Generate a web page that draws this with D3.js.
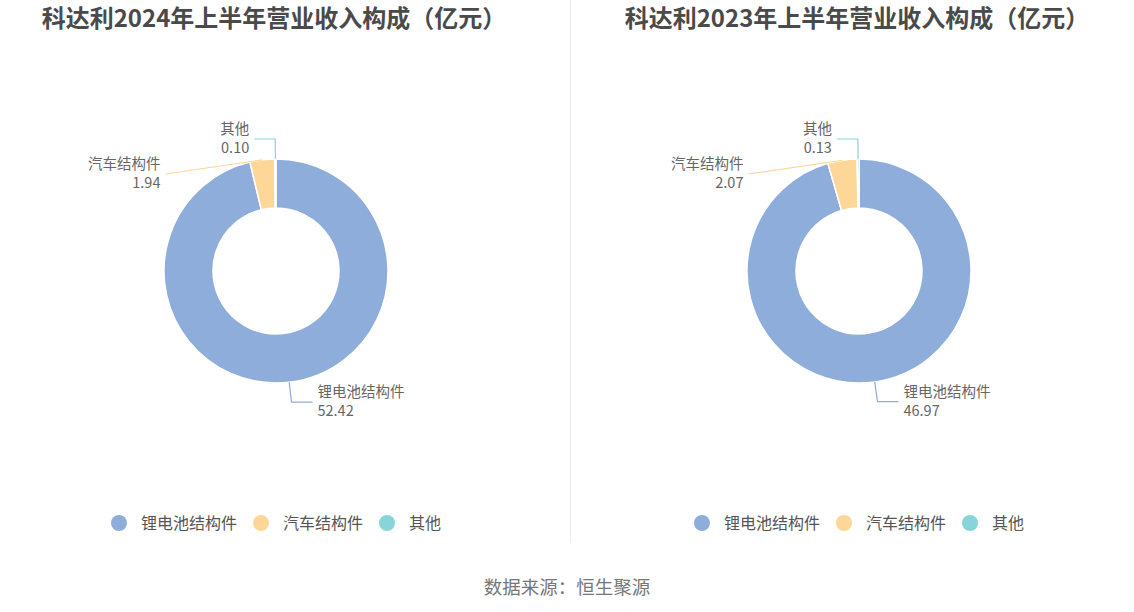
<!DOCTYPE html>
<html>
<head>
<meta charset="utf-8">
<script src="https://cdn.jsdelivr.net/npm/d3@7"></script>
<style>
  body { margin: 0; background: #fff; }
  svg { display: block; font-family: "Noto Sans CJK SC", "Noto Sans", sans-serif; }
</style>
</head>
<body>
<div id="app"></div>
<script>
// data
let categories = ['锂电池结构件', '汽车结构件', '其他'];
let values2024 = [52.42, 1.94, 0.10];
let values2023 = [46.97, 2.07, 0.13];
let titles = ['科达利2024年上半年营业收入构成（亿元）', '科达利2023年上半年营业收入构成（亿元）'];
let source = '数据来源：恒生聚源';

let colors = ['#8eadda', '#fdd798', '#86d5d9'];

let W = 1134, H = 612;
let svg = d3.select('#app').append('svg')
  .attr('width', W)
  .attr('height', H);

// divider between the two charts
svg.append('line')
  .attr('x1', 570.5).attr('x2', 570.5)
  .attr('y1', 0).attr('y2', 543)
  .attr('stroke', '#ebebeb')
  .attr('stroke-width', 1);

let rOuter = 112, rInner = 63;
let len1 = 20, len2 = 21;

function drawDonut(cx, cy, values, title) {
  let g = svg.append('g');

  g.append('text')
    .attr('x', cx - 2)
    .attr('y', 27)
    .attr('text-anchor', 'middle')
    .attr('font-size', 24)
    .attr('font-weight', 'bold')
    .attr('fill', '#4a4a4a')
    .text(title);

  let data = categories.map((c, i) => ({ name: c, value: values[i], color: colors[i] }));

  let pie = d3.pie().sort(null).value(d => d.value);
  let arcs = pie(data);

  let arc = d3.arc().innerRadius(rInner).outerRadius(rOuter);

  let pg = g.append('g').attr('transform', 'translate(' + cx + ',' + cy + ')');
  pg.selectAll('path')
    .data(arcs)
    .enter().append('path')
    .attr('d', arc)
    .attr('fill', d => d.data.color)
    .attr('stroke', '#fff')
    .attr('stroke-width', 1.5);

  // label layout, echarts-like
  let labels = arcs.map(a => {
    let mid = (a.startAngle + a.endAngle) / 2;
    let sx = Math.sin(mid), sy = -Math.cos(mid);
    let p0 = [cx + rOuter * sx, cy + rOuter * sy];
    let p1 = [cx + (rOuter + len1) * sx, cy + (rOuter + len1) * sy];
    let side = sx < 0 ? -1 : 1;
    return { a: a, p0: p0, p1: p1, side: side, y: p1[1], shifted: false };
  });

  // push overlapping labels apart on each side
  [-1, 1].forEach(side => {
    let list = labels.filter(l => l.side === side).sort((a, b) => a.y - b.y);
    for (let i = 1; i < list.length; i++) {
      if (list[i].y - list[i - 1].y < 35) {
        list[i].y = list[i - 1].y + 35;
        list[i].shifted = true;
      }
    }
  });

  labels.forEach(l => {
    let R = rOuter + len1;
    let dy = l.y - cy;
    let x;
    if (l.shifted) {
      x = cx + l.side * Math.sqrt(Math.max(R * R - dy * dy, 0)) + l.side * len2;
    } else {
      x = l.p1[0] + l.side * len2;
    }
    let pts = l.shifted ? [l.p0, [x, l.y]] : [l.p0, l.p1, [x, l.y]];

    g.append('path')
      .attr('d', d3.line()(pts))
      .attr('fill', 'none')
      .attr('stroke', l.a.data.color)
      .attr('stroke-width', 1.2);

    let t = g.append('text')
      .attr('text-anchor', l.side < 0 ? 'end' : 'start')
      .attr('font-size', 14.5)
      .attr('fill', '#666');
    t.append('tspan')
      .attr('x', x + l.side * 5)
      .attr('y', l.y - 5)
      .text(l.a.data.name);
    t.append('tspan')
      .attr('x', x + l.side * 5)
      .attr('y', l.y + 14)
      .text(l.a.data.value.toFixed(2));
  });

  // legend, centred under the donut
  let lg = g.append('g');
  let xpos = 0;
  categories.forEach((c, i) => {
    lg.append('circle')
      .attr('cx', xpos + 8)
      .attr('cy', 0)
      .attr('r', 8)
      .attr('fill', colors[i]);
    let t = lg.append('text')
      .attr('x', xpos + 30)
      .attr('y', 6)
      .attr('font-size', 16)
      .attr('fill', '#555')
      .text(c);
    xpos += 30 + t.node().getComputedTextLength() + 16;
  });
  let lw = xpos - 16;
  lg.attr('transform', 'translate(' + (cx - lw / 2) + ',523)');
}

drawDonut(276, 271, values2024, titles[0]);
drawDonut(859, 271, values2023, titles[1]);

svg.append('text')
  .attr('x', 567)
  .attr('y', 594)
  .attr('text-anchor', 'middle')
  .attr('font-size', 18.5)
  .attr('fill', '#777')
  .text(source);
</script>
</body>
</html>
